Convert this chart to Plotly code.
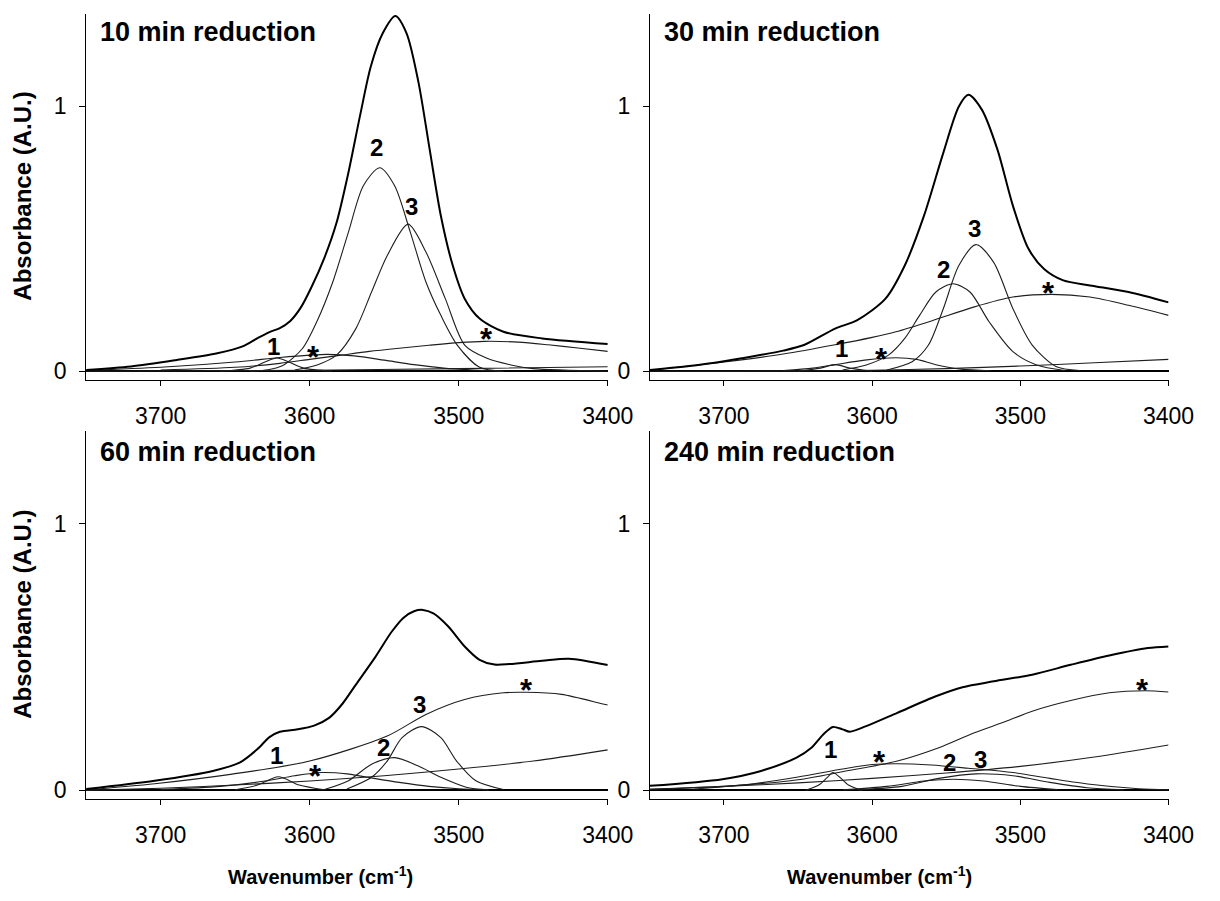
import plotly.graph_objects as go

# ---------------------------------------------------------------
# O-H stretching region, band deconvolution after reduction times
# ---------------------------------------------------------------
PANEL_TITLES = ["10 min reduction", "30 min reduction",
                "60 min reduction", "240 min reduction"]
X_TICKS = [3700, 3600, 3500, 3400]
Y_TICKS = [0, 1]

# ---- 10 min ----
t10_total_x = [3750, 3720, 3690, 3662, 3645, 3635, 3627, 3620, 3613, 3606, 3599, 3590, 3582, 3574,
               3566, 3559, 3551, 3542.5, 3535, 3527, 3519.5, 3512, 3504, 3496, 3486, 3470, 3444, 3400]
t10_total_y = [0.005, 0.018, 0.042, 0.068, 0.094, 0.125, 0.148, 0.163, 0.19, 0.24, 0.315, 0.43, 0.56, 0.75,
               0.97, 1.15, 1.275, 1.34, 1.275, 1.09, 0.837, 0.587, 0.399, 0.274, 0.199, 0.149, 0.124, 0.103]
t10_b1_x = [3660, 3640, 3630, 3622, 3614, 3604, 3585]
t10_b1_y = [0.0, 0.012, 0.035, 0.05, 0.035, 0.012, 0.0]
t10_b2_x = [3640, 3628, 3618, 3605, 3595, 3584.5, 3574, 3564, 3553, 3543, 3532.5, 3522, 3512, 3501, 3486, 3470]
t10_b2_y = [0.0, 0.006, 0.022, 0.085, 0.19, 0.337, 0.525, 0.70, 0.768, 0.70, 0.525, 0.337, 0.211, 0.099, 0.015, 0.0]
t10_b3_x = [3610, 3595, 3582, 3569, 3558.5, 3548, 3534, 3522, 3509, 3496, 3481, 3465, 3450, 3400]
t10_b3_y = [0.005, 0.024, 0.061, 0.161, 0.299, 0.436, 0.555, 0.45, 0.274, 0.099, 0.049, 0.024, 0.01, 0.0]
t10_sa_x = [3750, 3700, 3650, 3620, 3600, 3588, 3570, 3550, 3530, 3510, 3490, 3470]
t10_sa_y = [0.003, 0.015, 0.035, 0.052, 0.061, 0.064, 0.058, 0.042, 0.025, 0.012, 0.005, 0.0]
t10_sb_x = [3700, 3650, 3620, 3600, 3580, 3560, 3540, 3520, 3500, 3483, 3460, 3440, 3420, 3400]
t10_sb_y = [0.005, 0.015, 0.03, 0.045, 0.06, 0.075, 0.087, 0.098, 0.108, 0.113, 0.11, 0.10, 0.088, 0.075]
t10_bg_x = [3750, 3600, 3500, 3400]
t10_bg_y = [0.0, 0.004, 0.01, 0.017]
t10_lbl_x = [3624, 3597.6, 3555, 3531.5, 3481.5]
t10_lbl_y = [0.094, 0.086, 0.844, 0.62, 0.154]
t10_lbl_t = ["1", "*", "2", "3", "*"]

# ---- 30 min ----
t30_total_x = [3750, 3720, 3700, 3688, 3660, 3646, 3625, 3610, 3591, 3578, 3565, 3552,
               3541.5, 3535, 3526, 3515.5, 3505, 3494.5, 3484, 3471, 3453, 3427, 3400]
t30_total_y = [0.005, 0.022, 0.038, 0.049, 0.078, 0.099, 0.161, 0.193, 0.274, 0.399, 0.587, 0.824,
               0.999, 1.043, 0.987, 0.837, 0.624, 0.462, 0.386, 0.343, 0.324, 0.299, 0.26]
t30_b1_x = [3650, 3635, 3625, 3615, 3600]
t30_b1_y = [0.0, 0.012, 0.025, 0.012, 0.0]
t30_b2_x = [3620, 3604, 3589, 3578, 3568, 3557, 3545.4, 3534, 3521, 3505, 3489, 3470]
t30_b2_y = [0.005, 0.024, 0.061, 0.124, 0.211, 0.299, 0.33, 0.299, 0.186, 0.074, 0.024, 0.003]
t30_b3_x = [3590, 3573, 3562, 3552, 3541.5, 3530, 3518, 3505, 3492, 3476, 3460]
t30_b3_y = [0.005, 0.036, 0.099, 0.236, 0.399, 0.478, 0.411, 0.236, 0.099, 0.018, 0.003]
t30_sa_x = [3660, 3640, 3625, 3605, 3584, 3570, 3557, 3540, 3520]
t30_sa_y = [0.003, 0.012, 0.025, 0.042, 0.051, 0.045, 0.025, 0.008, 0.002]
t30_sb_x = [3750, 3700, 3660, 3625, 3600, 3584, 3560, 3531, 3505, 3479, 3453, 3427, 3400]
t30_sb_y = [0.004, 0.035, 0.065, 0.10, 0.128, 0.149, 0.19, 0.243, 0.28, 0.29, 0.28, 0.249, 0.211]
t30_bg_x = [3750, 3650, 3600, 3550, 3500, 3450, 3400]
t30_bg_y = [0.0, 0.001, 0.004, 0.01, 0.02, 0.032, 0.045]
t30_lbl_x = [3621, 3594, 3552, 3531, 3480.7]
t30_lbl_y = [0.086, 0.08, 0.384, 0.537, 0.328]
t30_lbl_t = ["1", "*", "2", "3", "*"]

# ---- 60 min ----
t60_total_x = [3750, 3704, 3665, 3647, 3635, 3627, 3620, 3608, 3597, 3587, 3578, 3569, 3556, 3545,
               3537, 3530, 3524, 3517, 3507, 3496, 3486, 3476, 3466, 3444, 3426, 3400]
t60_total_y = [0.005, 0.036, 0.073, 0.104, 0.155, 0.20, 0.22, 0.229, 0.243, 0.272, 0.325, 0.397, 0.50, 0.595,
               0.648, 0.672, 0.677, 0.664, 0.615, 0.54, 0.49, 0.472, 0.474, 0.486, 0.494, 0.47]
t60_b1_x = [3650, 3635, 3621, 3607, 3590]
t60_b1_y = [0.002, 0.02, 0.051, 0.02, 0.002]
t60_b2_x = [3590, 3574, 3558.5, 3543, 3527.4, 3512, 3495, 3480]
t60_b2_y = [0.003, 0.036, 0.098, 0.123, 0.092, 0.049, 0.012, 0.002]
t60_b3_x = [3575, 3558.5, 3548, 3538, 3525, 3512, 3501.4, 3488.5, 3470]
t60_b3_y = [0.005, 0.049, 0.11, 0.198, 0.239, 0.198, 0.11, 0.036, 0.003]
t60_sa_x = [3700, 3660, 3630, 3610, 3592, 3575, 3561, 3540, 3520, 3500, 3480]
t60_sa_y = [0.003, 0.015, 0.035, 0.055, 0.067, 0.062, 0.049, 0.03, 0.015, 0.006, 0.002]
t60_sb_x = [3750, 3704, 3652, 3600, 3548, 3522, 3496, 3470, 3455, 3431, 3404, 3400]
t60_sb_y = [0.002, 0.025, 0.061, 0.11, 0.204, 0.285, 0.341, 0.366, 0.368, 0.36, 0.325, 0.32]
t60_bg_x = [3750, 3700, 3650, 3600, 3550, 3500, 3450, 3400]
t60_bg_y = [0.0, 0.008, 0.02, 0.035, 0.055, 0.08, 0.11, 0.152]
t60_lbl_x = [3622, 3596, 3550.7, 3526, 3454.7]
t60_lbl_y = [0.129, 0.086, 0.16, 0.322, 0.409]
t60_lbl_t = ["1", "*", "2", "3", "*"]

# ---- 240 min ----
t240_total_x = [3750, 3701, 3675, 3651, 3641, 3633, 3626.5, 3620, 3615, 3604, 3583, 3557,
                3539, 3518, 3492, 3466, 3440, 3414, 3400]
t240_total_y = [0.017, 0.042, 0.073, 0.123, 0.16, 0.21, 0.238, 0.229, 0.22, 0.241, 0.291, 0.353,
                0.387, 0.409, 0.434, 0.471, 0.506, 0.534, 0.54]
t240_b1_x = [3645, 3636, 3630, 3626.5, 3622, 3616, 3607]
t240_b1_y = [0.0, 0.02, 0.05, 0.067, 0.05, 0.02, 0.0]
t240_b2_x = [3620, 3590, 3565, 3545, 3525, 3500, 3475]
t240_b2_y = [0.002, 0.015, 0.035, 0.042, 0.035, 0.015, 0.003]
t240_b3_x = [3610, 3580, 3555, 3530, 3505, 3480, 3455, 3430]
t240_b3_y = [0.002, 0.015, 0.045, 0.062, 0.055, 0.03, 0.01, 0.002]
t240_sa_x = [3720, 3680, 3650, 3620, 3600, 3583, 3560, 3535, 3505, 3480, 3453, 3420, 3400]
t240_sa_y = [0.005, 0.025, 0.05, 0.08, 0.097, 0.10, 0.095, 0.083, 0.067, 0.045, 0.023, 0.006, 0.002]
t240_sb_x = [3750, 3700, 3650, 3620, 3583, 3555, 3531, 3510, 3492, 3466, 3440, 3416, 3400]
t240_sb_y = [0.004, 0.015, 0.04, 0.07, 0.11, 0.16, 0.216, 0.258, 0.297, 0.337, 0.366, 0.374, 0.369]
t240_bg_x = [3750, 3700, 3650, 3600, 3550, 3500, 3450, 3400]
t240_bg_y = [0.004, 0.015, 0.028, 0.045, 0.065, 0.09, 0.125, 0.17]
t240_lbl_x = [3628.3, 3595, 3547.6, 3527, 3417.5]
t240_lbl_y = [0.154, 0.138, 0.104, 0.117, 0.407]
t240_lbl_t = ["1", "*", "2", "3", "*"]

panels = [
    (t10_total_x, t10_total_y,
     [(t10_b1_x, t10_b1_y), (t10_b2_x, t10_b2_y), (t10_b3_x, t10_b3_y),
      (t10_sa_x, t10_sa_y), (t10_sb_x, t10_sb_y), (t10_bg_x, t10_bg_y)],
     (t10_lbl_x, t10_lbl_y, t10_lbl_t)),
    (t30_total_x, t30_total_y,
     [(t30_b1_x, t30_b1_y), (t30_b2_x, t30_b2_y), (t30_b3_x, t30_b3_y),
      (t30_sa_x, t30_sa_y), (t30_sb_x, t30_sb_y), (t30_bg_x, t30_bg_y)],
     (t30_lbl_x, t30_lbl_y, t30_lbl_t)),
    (t60_total_x, t60_total_y,
     [(t60_b1_x, t60_b1_y), (t60_b2_x, t60_b2_y), (t60_b3_x, t60_b3_y),
      (t60_sa_x, t60_sa_y), (t60_sb_x, t60_sb_y), (t60_bg_x, t60_bg_y)],
     (t60_lbl_x, t60_lbl_y, t60_lbl_t)),
    (t240_total_x, t240_total_y,
     [(t240_b1_x, t240_b1_y), (t240_b2_x, t240_b2_y), (t240_b3_x, t240_b3_y),
      (t240_sa_x, t240_sa_y), (t240_sb_x, t240_sb_y), (t240_bg_x, t240_bg_y)],
     (t240_lbl_x, t240_lbl_y, t240_lbl_t)),
]

W, H = 1220, 901
FONT = "Arial, 'Liberation Sans', sans-serif"

# plot-area rectangles in pixels: (left, right, top, bottom)
boxes = [(88, 621, 14, 382), (664, 1194, 14, 382),
         (88, 621, 433, 803), (664, 1194, 433, 803)]

fig = go.Figure()
layout = dict(width=W, height=H, margin=dict(l=0, r=0, t=0, b=0),
              plot_bgcolor="white", paper_bgcolor="white",
              showlegend=False, font=dict(family=FONT, color="black"))
annotations = []

for i, (tx, ty, bands, labels) in enumerate(panels):
    n = "" if i == 0 else str(i + 1)
    xa, ya = "x" + n, "y" + n
    l, r, t, b = boxes[i]
    layout["xaxis" + n] = dict(
        domain=[l / W, r / W], anchor=ya, range=[3750, 3400],
        tickvals=X_TICKS, ticks="outside", ticklen=5, tickwidth=1, tickcolor="black",
        showline=True, linecolor="black", linewidth=1, showgrid=False, zeroline=False,
        tickfont=dict(size=23, family=FONT), ticklabelstandoff=10)
    layout["yaxis" + n] = dict(
        domain=[1 - b / H, 1 - t / H], anchor=xa, range=[-0.034, 1.348],
        tickvals=Y_TICKS, ticks="outside", ticklen=6, tickwidth=1, tickcolor="black",
        showline=True, linecolor="black", linewidth=1, showgrid=False,
        zeroline=True, zerolinecolor="black", zerolinewidth=2,
        tickfont=dict(size=23, family=FONT), ticklabelstandoff=8)

    for bx, by in bands:
        fig.add_trace(go.Scatter(x=bx, y=by, mode="lines", xaxis=xa, yaxis=ya,
                                 line=dict(color="#1e1e1e", width=1.1,
                                           shape="spline", smoothing=0.8),
                                 hoverinfo="skip"))
    fig.add_trace(go.Scatter(x=tx, y=ty, mode="lines", xaxis=xa, yaxis=ya,
                             line=dict(color="black", width=2,
                                       shape="spline", smoothing=0.8),
                             hoverinfo="skip"))

    # band labels; the asterisk glyph sits high in its line box
    for lx, ly, lt in zip(*labels):
        star = lt == "*"
        annotations.append(dict(
            x=lx, y=ly, xref=xa, yref=ya, text=lt, showarrow=False,
            xanchor="center", yanchor="middle", yshift=-9 if star else 0,
            font=dict(size=31 if star else 24, family=FONT, weight="bold")))

    # panel title
    annotations.append(dict(
        x=(l + 12) / W, y=1 - 32 / H if i < 2 else 1 - 454 / H,
        xref="paper", yref="paper", text=PANEL_TITLES[i], showarrow=False,
        xanchor="left", yanchor="middle",
        font=dict(size=27, family=FONT, weight="bold")))

# axis titles
for yc in (197, 617):
    annotations.append(dict(
        x=23 / W, y=1 - yc / H, xref="paper", yref="paper",
        text="Absorbance (A.U.)", textangle=-90, showarrow=False,
        xanchor="center", yanchor="middle",
        font=dict(size=24, family=FONT, weight="bold")))
for xc in (327, 899):
    annotations.append(dict(
        x=xc / W, y=1 - 879 / H, xref="paper", yref="paper",
        text="Wavenumber (cm<sup>-1</sup>)", showarrow=False,
        xanchor="center", yanchor="middle",
        font=dict(size=20, family=FONT, weight="bold")))

layout["annotations"] = annotations
fig.update_layout(**layout)
fig.write_html("out.html")
